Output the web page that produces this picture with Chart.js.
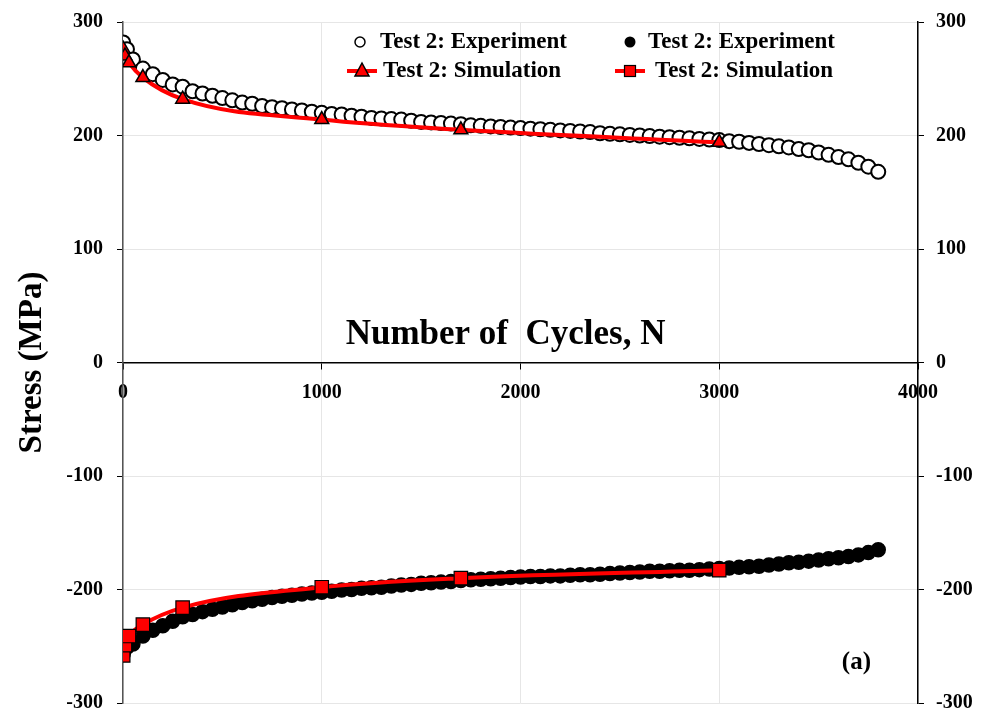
<!DOCTYPE html>
<html>
<head>
<meta charset="utf-8">
<script src="https://cdn.jsdelivr.net/npm/chart.js@4.4.1/dist/chart.umd.min.js"></script>
<style>
  html, body { margin: 0; padding: 0; background: #fff; }
  #wrap { width: 981px; height: 715px; position: relative; }
</style>
</head>
<body>
<div id="wrap"><canvas id="stressChart"></canvas></div>
<script>
// experiment cycles (same for both halves)
const cycles = [1, 20, 50, 100, 150, 200, 250, 300, 350, 400, 450, 500, 550, 600, 650, 700, 750, 800, 850, 900, 950,
  1000, 1050, 1100, 1150, 1200, 1250, 1300, 1350, 1400, 1450, 1500, 1550, 1600, 1650, 1700, 1750, 1800, 1850, 1900, 1950,
  2000, 2050, 2100, 2150, 2200, 2250, 2300, 2350, 2400, 2450, 2500, 2550, 2600, 2650, 2700, 2750, 2800, 2850, 2900, 2950,
  3000, 3050, 3100, 3150, 3200, 3250, 3300, 3350, 3400, 3450, 3500, 3550, 3600, 3650, 3700, 3750, 3800];

const upperExp = [282, 276, 267, 259, 254, 249, 245, 243, 239, 237, 235, 233, 231, 229, 228, 226, 225, 224, 223, 222, 221,
  220, 219, 218.5, 217.5, 216.5, 215.5, 215, 214.5, 214, 213, 212, 211.5, 211, 210.5, 210, 209, 208.5, 208, 207.5, 207,
  206.5, 206, 205.5, 205, 204.5, 204, 203.5, 203, 202, 201.5, 201, 200.5, 200, 199.5, 199, 198.5, 198, 197.5, 197, 196.5,
  196, 195, 194.5, 193.5, 192.5, 191.5, 190.5, 189.5, 188, 187, 185, 183, 181, 179, 176, 172.5, 168];

const lowerExp = [-257, -251, -248, -241, -236, -232, -228, -224, -222, -219.5, -217.5, -215.5, -213.5, -211.5, -210, -208.5, -207, -206, -205, -204, -203,
  -202.5, -201.5, -200.5, -200, -199, -198.5, -198, -197, -196, -195.5, -194.5, -194, -193.5, -193, -192, -191.5, -191, -190.5, -190, -189.5,
  -189, -188.5, -188.5, -188, -188, -187.5, -187, -187, -186.5, -186, -185.5, -185, -184.5, -184, -184, -183.5, -183, -183, -182.5, -182,
  -181.5, -181, -180.5, -180, -179.5, -178.5, -177.5, -176.5, -176, -175, -174, -173, -172, -171, -169.5, -167.5, -165];

// simulation points
const simCycles = [1, 10, 30, 100, 300, 1000, 1700, 3000];
const upperSim = [276, 270, 264, 251, 232, 214, 205, 194];
const lowerSim = [-258, -249, -241, -231, -216, -198, -190, -183];

const yTicks = [-300, -200, -100, 0, 100, 200, 300];

const serif = '"Liberation Serif", "DejaVu Serif", serif';

function pairs(xs, ys) {
  return xs.map((x, i) => ({x: x, y: ys[i]}));
}

// legend + free texts drawn inside plot
const extraText = {
  id: 'extraText',
  afterDraw(chart) {
    const ctx = chart.ctx;
    const a = chart.chartArea;
    const xs = chart.scales.x, ys = chart.scales.y;
    ctx.save();
    ctx.fillStyle = '#000';
    ctx.font = 'bold 23px ' + serif;
    ctx.textBaseline = 'middle';
    ctx.textAlign = 'left';

    // row 1
    let r1 = a.top + 20, r2 = a.top + 49;
    ctx.beginPath();
    ctx.arc(a.left + 237, r1, 5, 0, Math.PI * 2);
    ctx.fillStyle = '#fff'; ctx.fill();
    ctx.lineWidth = 1.5; ctx.strokeStyle = '#000'; ctx.stroke();
    ctx.fillStyle = '#000';
    ctx.fillText('Test 2: Experiment', a.left + 257, r1);

    ctx.beginPath();
    ctx.arc(a.left + 507, r1, 5.5, 0, Math.PI * 2);
    ctx.fill();
    ctx.fillText('Test 2: Experiment', a.left + 525, r1);

    // row 2
    ctx.strokeStyle = '#ff0000'; ctx.lineWidth = 4;
    ctx.beginPath(); ctx.moveTo(a.left + 224, r2); ctx.lineTo(a.left + 254, r2); ctx.stroke();
    ctx.beginPath();
    ctx.moveTo(a.left + 239, r2 - 8);
    ctx.lineTo(a.left + 246, r2 + 5);
    ctx.lineTo(a.left + 232, r2 + 5);
    ctx.closePath();
    ctx.fillStyle = '#ff0000'; ctx.fill();
    ctx.lineWidth = 1.5; ctx.strokeStyle = '#000'; ctx.stroke();
    ctx.fillStyle = '#000';
    ctx.fillText('Test 2: Simulation', a.left + 260, r2);

    ctx.strokeStyle = '#ff0000'; ctx.lineWidth = 4;
    ctx.beginPath(); ctx.moveTo(a.left + 492, r2); ctx.lineTo(a.left + 522, r2); ctx.stroke();
    ctx.fillStyle = '#ff0000';
    ctx.fillRect(a.left + 501.5, r2 - 5.5, 11, 11);
    ctx.lineWidth = 1.2; ctx.strokeStyle = '#000';
    ctx.strokeRect(a.left + 501.5, r2 - 5.5, 11, 11);
    ctx.fillStyle = '#000';
    ctx.fillText('Test 2: Simulation', a.left + 532, r2);

    // axis title above x axis
    ctx.textAlign = 'center';
    ctx.textBaseline = 'alphabetic';
    ctx.font = 'bold 35px ' + serif;
    ctx.fillText('Number of  Cycles, N', xs.getPixelForValue(1925), ys.getPixelForValue(16));

    ctx.font = 'bold 25px ' + serif;
    ctx.textBaseline = 'middle';
    ctx.fillText('(a)', xs.getPixelForValue(3690), ys.getPixelForValue(-264));
    ctx.restore();
  }
};

const tickFont = {family: serif, size: 20, weight: 'bold'};

new Chart(document.getElementById('stressChart'), {
  type: 'line',
  data: {
    datasets: [
      {
        label: 'Test 2: Simulation',
        data: pairs(simCycles, upperSim),
        borderColor: '#ff0000',
        backgroundColor: '#ff0000',
        borderWidth: 4,
        pointStyle: 'triangle',
        pointRadius: 8,
        pointBorderColor: '#000',
        pointBorderWidth: 1.5,
        cubicInterpolationMode: 'monotone',
        order: 1
      },
      {
        label: 'Test 2: Simulation',
        data: pairs(simCycles, lowerSim),
        borderColor: '#ff0000',
        backgroundColor: '#ff0000',
        borderWidth: 4,
        pointStyle: 'rect',
        pointRadius: 9.5,
        pointBorderColor: '#000',
        pointBorderWidth: 1.2,
        cubicInterpolationMode: 'monotone',
        order: 1
      },
      {
        label: 'Test 2: Experiment',
        data: pairs(cycles, upperExp),
        showLine: false,
        pointRadius: 7,
        pointBackgroundColor: '#fff',
        pointBorderColor: '#000',
        pointBorderWidth: 2,
        order: 2
      },
      {
        label: 'Test 2: Experiment',
        data: pairs(cycles, lowerExp),
        showLine: false,
        pointRadius: 7,
        pointBackgroundColor: '#000',
        pointBorderColor: '#000',
        pointBorderWidth: 1.5,
        order: 2
      }
    ]
  },
  options: {
    responsive: true,
    maintainAspectRatio: false,
    animation: false,
    layout: { padding: {top: 22, bottom: 12, left: 0, right: 0} },
    plugins: {
      legend: { display: false },
      tooltip: { enabled: false }
    },
    scales: {
      x: {
        type: 'linear',
        position: {y: 0},
        min: 0,
        max: 4000,
        ticks: { stepSize: 1000, font: tickFont, color: '#000', padding: 12, maxRotation: 0, callback: v => String(v) },
        grid: { color: '#e6e6e6', lineWidth: 1, tickColor: '#000', tickLength: 6, tickWidth: 1 },
        border: { color: '#000', width: 1.5 }
      },
      y: {
        position: 'left',
        min: -300,
        max: 300,
        afterBuildTicks: s => { s.ticks = yTicks.map(v => ({value: v})); },
        ticks: { font: tickFont, color: '#000', padding: 14 },
        grid: { color: '#e6e6e6', lineWidth: 1, tickColor: '#000', tickLength: 6 },
        border: { color: '#555', width: 1.5 },
        title: {
          display: true,
          text: 'Stress (MPa)',
          color: '#000',
          font: {family: serif, size: 33, weight: 'bold'},
          padding: {top: 13, bottom: 0}
        },
        afterFit: s => { s.width = 123; s.paddingTop = 0; s.paddingBottom = 0; }
      },
      y2: {
        position: 'right',
        min: -300,
        max: 300,
        afterBuildTicks: s => { s.ticks = yTicks.map(v => ({value: v})); },
        ticks: { font: tickFont, color: '#000', padding: 12 },
        grid: { drawOnChartArea: false, tickColor: '#000', tickLength: 6 },
        border: { color: '#000', width: 1.5 },
        afterFit: s => { s.width = 63; s.paddingTop = 0; s.paddingBottom = 0; }
      }
    }
  },
  plugins: [extraText]
});
</script>
</body>
</html>
